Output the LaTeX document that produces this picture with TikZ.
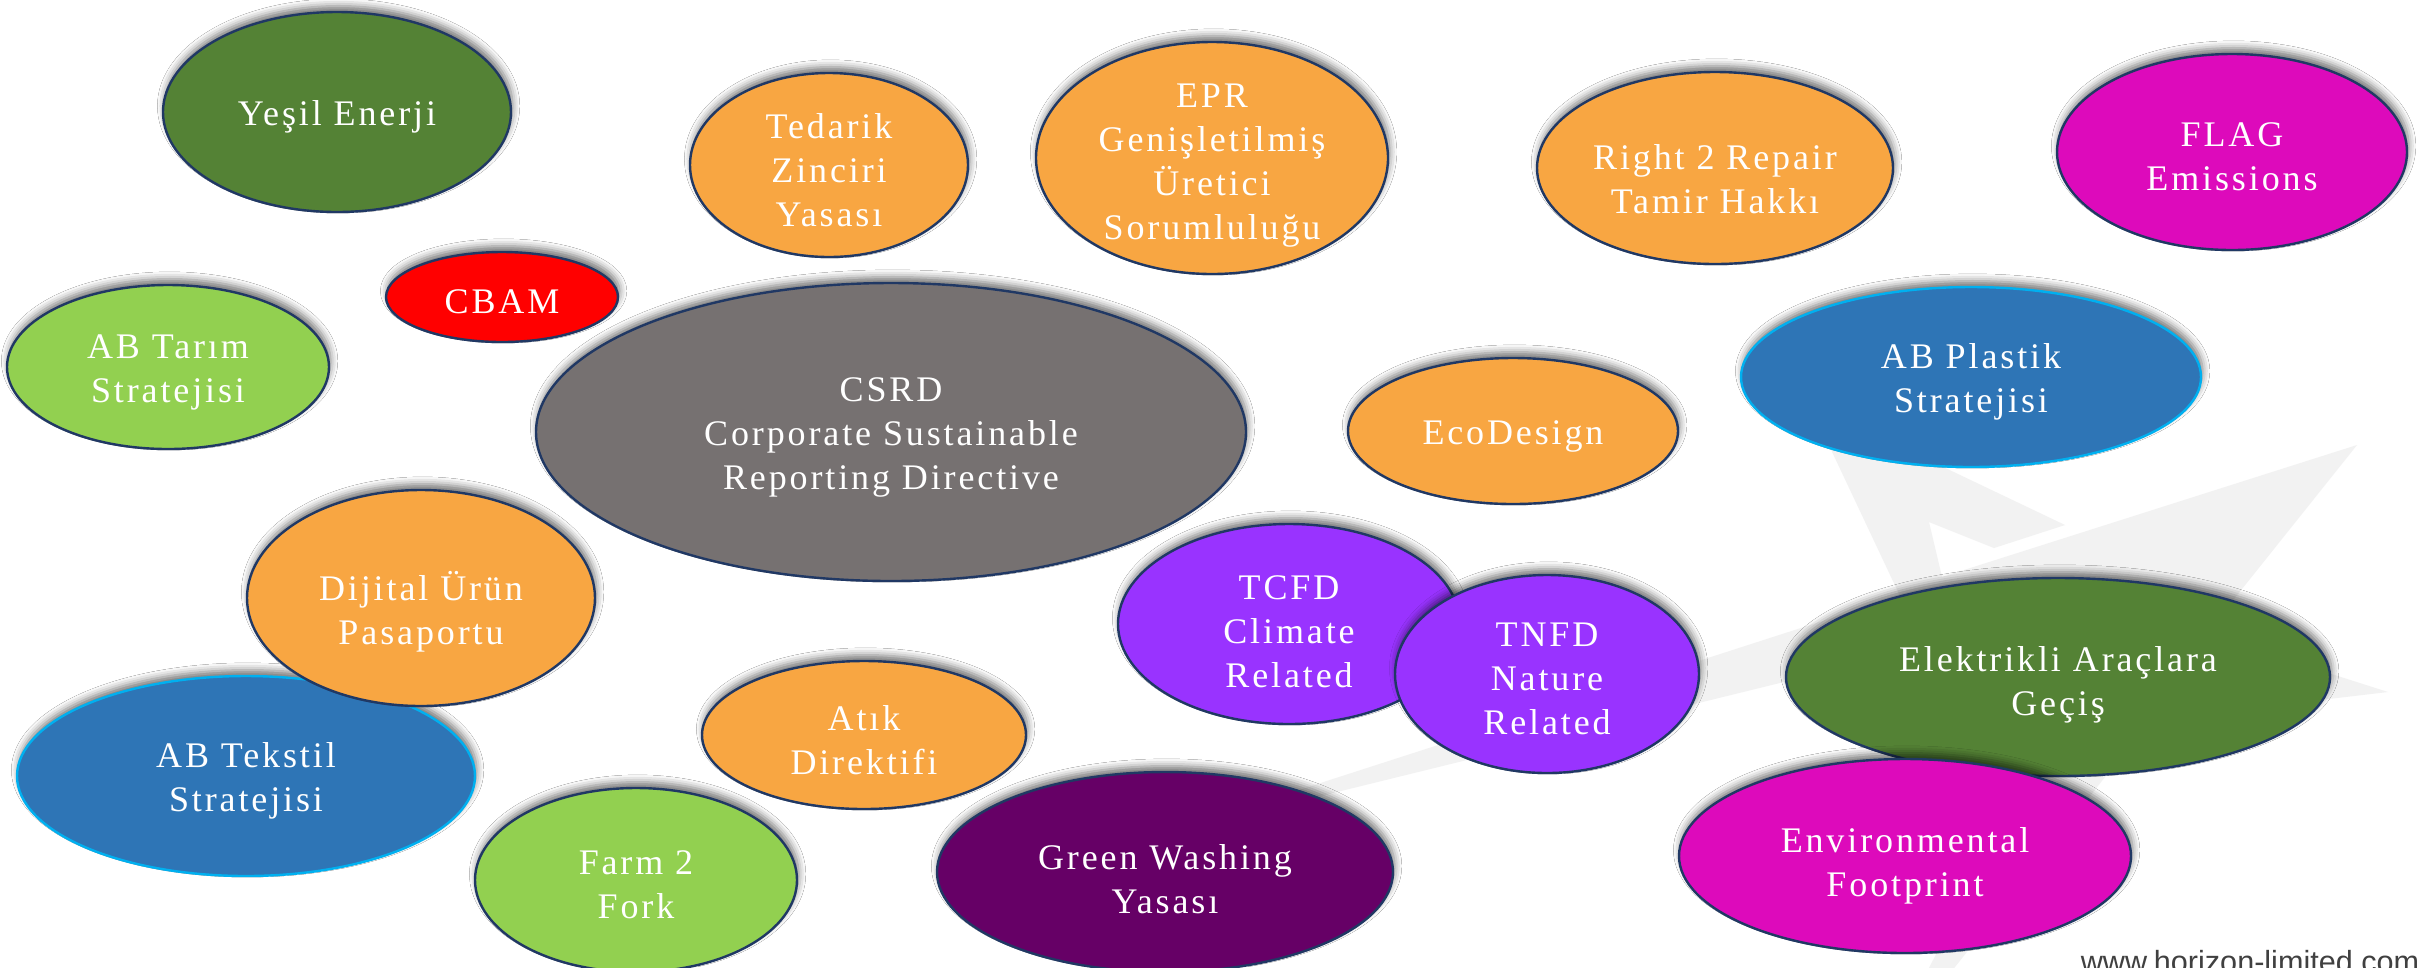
\documentclass[tikz,border=0pt]{standalone}
\usepackage{fontspec}
\setmainfont{Liberation Serif}[LetterSpace=8]
\newfontfamily\urlfont{Liberation Sans}
\usetikzlibrary{shapes.geometric,shadows.blur}
\definecolor{bordr}{HTML}{203864}
\definecolor{dkgreen}{HTML}{548235}
\definecolor{ltgreen}{HTML}{92D050}
\definecolor{orng}{HTML}{F8A642}
\definecolor{rred}{HTML}{FF0000}
\definecolor{gry}{HTML}{767171}
\definecolor{blu}{HTML}{2E75B6}
\definecolor{ltblu}{HTML}{00B0F0}
\definecolor{purp}{HTML}{9933FF}
\definecolor{dkpurp}{HTML}{660066}
\definecolor{mgnt}{HTML}{DD0ABB}
\definecolor{wmark}{HTML}{F2F2F2}
\definecolor{urlgray}{HTML}{404040}
\begin{document}
\begin{tikzpicture}[x=0.25pt,y=-0.25pt,
  bub/.style={ellipse, draw=bordr, line width=0.6pt, inner sep=0pt,
    blur shadow={shadow xshift=0.4pt, shadow yshift=1.5pt, shadow blur radius=1.8pt, shadow opacity=55}},
  bluebub/.style={bub, draw=ltblu, fill=blu},
  txt/.style={text=white, align=center, inner sep=0pt, yshift=-1.25pt, font=\fontsize{9}{11}\selectfont},
  urltxt/.style={text=urlgray, inner sep=0pt, font=\urlfont\fontsize{7.65}{9}\selectfont}
]
\useasboundingbox (0,0) rectangle (2420,967);
\clip (0,0) rectangle (2420,967);
\fill[white] (0,0) rectangle (2420,967);
% watermark logo
\fill[wmark] (1150,838) -- (1900,596) -- (1809,403) -- (2065,525) -- (1994,548) -- (1929,522)
  -- (1942,577) -- (2357,445) -- (2206,634) -- (2388,692) -- (2150,720) -- (1880,1062)
  -- (2121,599) -- cycle;
% bubbles
\node[bub, fill=dkgreen, minimum width=87pt, minimum height=50pt] (yesil) at (337,112) {};
\node[txt] (yesilT) at (yesil.center) {Yeşil Enerji};
\node[bub, fill=rred, minimum width=58pt, minimum height=22.5pt] (cbam) at (502,297) {};
\node[txt] (cbamT) at (cbam.center) {CBAM};
\node[bub, fill=ltgreen, minimum width=80.5pt, minimum height=41pt] (tarim) at (168,367) {};
\node[txt] (tarimT) at (tarim.center) {AB Tarım\\Stratejisi};
\node[bub, fill=orng, minimum width=69.5pt, minimum height=46pt] (tedarik) at (829,165) {};
\node[txt] (tedarikT) at (tedarik.center) {Tedarik\\Zinciri\\Yasası};
\node[bub, fill=orng, minimum width=88pt, minimum height=58pt] (epr) at (1212,158) {};
\node[txt, yshift=-0.75pt] (eprT) at (epr.center) {EPR\\Genişletilmiş\\Üretici\\Sorumluluğu};
\node[bub, fill=orng, minimum width=89pt, minimum height=48pt] (repair) at (1715,168) {};
\node[txt, yshift=-1.5pt] (repairT) at (repair.center) {Right 2 Repair\\Tamir Hakkı};
\node[bub, fill=mgnt, minimum width=87.5pt, minimum height=49pt] (flag) at (2232,152) {};
\node[txt] (flagT) at (flag.center) {FLAG\\Emissions};
\node[bub, fill=gry, minimum width=177.5pt, minimum height=74.5pt] (csrd) at (891,432) {};
\node[txt] (csrdT) at (csrd.center) {CSRD\\Corporate Sustainable\\Reporting Directive};
\node[bub, fill=orng, minimum width=82.5pt, minimum height=36.5pt] (eco) at (1513,431) {};
\node[txt] (ecoT) at (eco.center) {EcoDesign};
\node[bluebub, minimum width=115pt, minimum height=45pt] (plastik) at (1971,377) {};
\node[txt] (plastikT) at (plastik.center) {AB Plastik\\Stratejisi};
\node[bluebub, minimum width=114.5pt, minimum height=50pt] (tekstil) at (246,776) {};
\node[txt] (tekstilT) at (tekstil.center) {AB Tekstil\\Stratejisi};
\node[bub, fill=orng, minimum width=87pt, minimum height=54pt] (dijital) at (421,598) {};
\node[txt, yshift=-2.25pt] (dijitalT) at (dijital.center) {Dijital Ürün\\Pasaportu};
\node[bub, fill=orng, minimum width=81pt, minimum height=37pt] (atik) at (864,735) {};
\node[txt] (atikT) at (atik.center) {Atık\\Direktifi};
\node[bub, fill=ltgreen, minimum width=80.5pt, minimum height=46pt] (farm) at (636,880) {};
\node[txt] (farmT) at (farm.center) {Farm 2\\Fork};
\node[bub, fill=dkpurp, minimum width=114pt, minimum height=50pt] (gw) at (1165,872) {};
\node[txt, yshift=-0.5pt] (gwT) at (gw.center) {Green Washing\\Yasası};
\node[bub, fill=purp, minimum width=85.5pt, minimum height=50pt] (tcfd) at (1289,624) {};
\node[txt, yshift=-0.75pt] (tcfdT) at (tcfd.center) {TCFD\\Climate\\Related};
\node[bub, fill=purp, minimum width=76pt, minimum height=49.5pt] (tnfd) at (1547,674) {};
\node[txt] (tnfdT) at (tnfd.center) {TNFD\\Nature\\Related};
\node[bub, fill=dkgreen, minimum width=136pt, minimum height=49.5pt] (elek) at (2058,677) {};
\node[txt, yshift=-0.75pt] (elekT) at (elek.center) {Elektrikli Araçlara\\Geçiş};
\node[bub, fill=mgnt, minimum width=113pt, minimum height=48.5pt] (env) at (1905,856) {};
\node[txt, yshift=-1.25pt] (envT) at (env.center) {Environmental\\Footprint};
% url
\node[urltxt, anchor=base west] (url) at (2080,972) {www.horizon-limited.com};
\end{tikzpicture}
\end{document}
